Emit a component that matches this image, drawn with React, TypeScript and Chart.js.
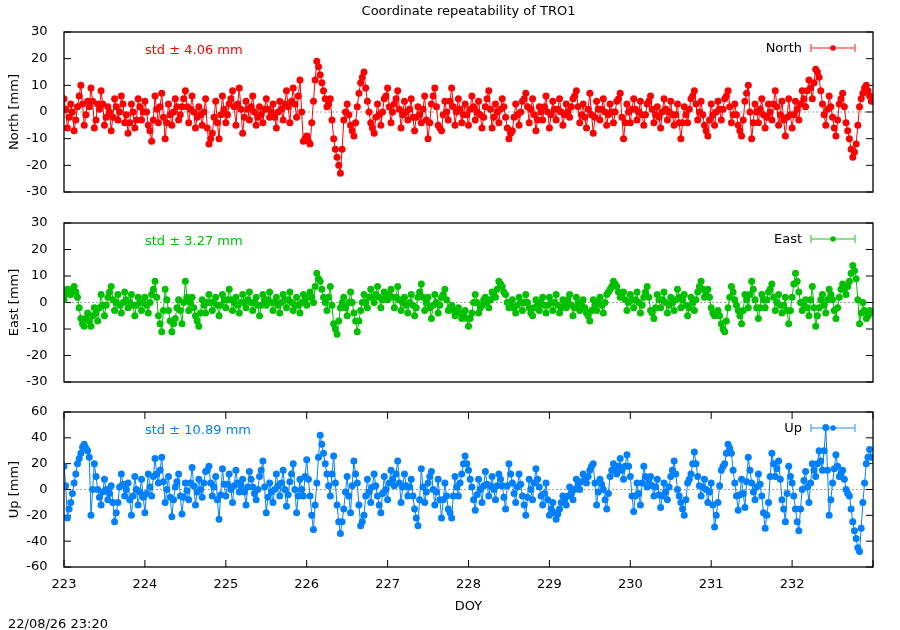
import React, { useEffect, useRef } from "react";
import { Chart, registerables } from "chart.js";

Chart.register(...registerables);

// ---- data: samples every hour (A) and on the half hour (B), starting DOY 223.0 ----
const DOY_START = 223;
const SAMPLES_PER_DAY = 24;
const X_MIN = 223;
const X_MAX = 233;
const X_TICK_STEP = 1;

const NORTH_A = [
  5, -6, 3, -7, 2, 10, -5, 4, 9, -6, 3, 8, -5, 2, -7, 5, -3, 6, -4, -8, 3, -6, 5, -3,
  4, -5, -11, 6, -4, 7, -10, 3, -5, 5, -3, 2, 8, -4, 6, -6, 2, -5, 5, -12, -8, 4, -10, 6,
  -4, 3, 8, -5, 9, -8, 4, -3, 6, -5, 2, -4, 5, -2, 3, -6, 4, -3, 8, -4, 9, -2, 12, -11,
  -9, -12, 4, 19, 14, 8, 2, 5, -10, -17, -23, -3, 3, -5, -9, 2, 11, 15, 4, -4, -8, 3, -5, 5,
  9, -4, 3, 8, -6, 4, -3, 5, -7, 2, -4, 6, -10, 3, 9, -5, -7, 4, -3, 9, -5, 5, -4, 3,
  -5, 6, -3, 4, -6, 2, 8, -6, 3, -4, 5, -2, -10, -7, 3, -5, 4, 7, -4, 5, -7, 2, -3, 6,
  -6, 4, -3, 5, -5, 3, -2, 5, 8, -4, 3, -6, 7, -8, 4, -3, 5, -5, 3, -4, 4, 7, -10, 3,
  -4, 5, -3, 4, -5, 3, 6, -4, 2, -6, 5, -3, 4, -5, 3, -10, 2, -4, 5, 8, -3, 4, -5, -9,
  3, -5, 4, -3, 5, 8, -4, 3, -5, -9, 4, 10, -10, 3, -4, 5, -6, 3, -3, 8, -5, 4, -9, 5,
  -6, 4, -3, 8, 2, 12, 5, 16, 13, 3, -5, 6, -2, -9, 3, 7, -4, -10, -17, -12, 2, 7, 10, 6,
];
const NORTH_B = [
  1, -2, 0, -3, 6, 3, -1, 2, 4, -3, 1, 3, -2, 0, -2, 2, 0, 3, -1, -4, 0, -3, 2, 0,
  0, -7, -3, 1, 2, -2, -4, -1, 0, 2, -1, 5, 2, 1, 0, -2, -1, 0, -6, -10, -2, -4, -1, 1,
  -1, 5, 2, 3, 1, -2, 1, 2, 0, -2, -1, 1, 1, 0, -2, 0, 1, 3, 2, 4, 3, 6, 0, -10,
  -11, -4, 12, 17, 11, 5, 3, -3, -14, -20, -14, 0, -1, -7, -4, 7, 13, 9, 0, -6, -2, -1, 0, 6,
  2, 0, 5, 1, -1, 0, 1, -2, -2, -1, 1, -3, -4, 6, 2, -6, -1, 0, 4, 2, 0, 1, -1, -1,
  1, 2, 0, -1, -2, 5, 1, -2, 0, 1, 2, -6, -8, -2, -1, 0, 5, 2, 1, -1, -3, 0, 2, 0,
  -1, 1, 1, 0, -1, 0, 2, 6, 2, -1, -2, 1, -1, -2, 1, 1, 0, -1, 0, 0, 5, -2, -4, 0,
  1, 1, 0, -1, -1, 4, 1, -1, -2, 0, 1, 0, -1, -1, -4, -4, -1, 1, 6, 3, 0, -1, -7, -3,
  -1, 0, 1, 1, 6, 2, -1, -1, -7, -3, 7, 0, -4, 0, 1, -1, -2, 0, 3, 2, -1, -3, -2, -1,
  -1, 1, 3, 5, 8, 9, 11, 15, 8, -1, 1, 2, -6, -3, 5, 2, -7, -14, -15, -5, 5, 9, 8, 4,
];

const EAST_A = [
  1, 5, 3, 6, 2, -6, -9, -4, -9, -2, -7, 3, -5, 2, 6, -3, 3, -4, 4, -2, 3, -5, 2, -3,
  2, -4, 3, 8, -5, -11, 5, -3, -11, -6, 1, -8, 8, -3, 2, -5, -9, 1, -4, 3, -3, 2, -5, 3,
  -2, 5, -3, 2, -4, 3, -2, 4, -3, 2, -5, 3, -1, 4, -3, 2, -4, 3, -2, 4, -3, 2, -4, 3,
  -1, 4, 0, 11, 8, 2, -3, 6, -8, -12, -2, 2, -5, 4, -4, -11, -3, 3, -2, 5, 0, 6, -2, 4,
  1, 5, -2, 6, -3, 2, -4, 3, -5, 2, 7, -3, 2, -6, 3, -4, 2, 5, -3, -1, -5, -2, -6, -3,
  -9, -4, 3, -4, -1, 2, -2, 4, 2, 8, 6, 3, -2, 1, -4, 2, -3, 3, -2, -5, 1, -3, 2, -4,
  2, -3, 3, -4, 1, -2, 3, -5, 2, -3, 1, -4, -7, 1, -3, 2, -4, 3, 5, 8, 6, 2, 4, -3,
  3, -2, 4, -4, 2, 6, -3, -6, 3, -2, 4, -4, 2, -3, 5, -2, 3, -5, 2, -3, 4, 8, 2, 5,
  -2, -5, -3, -8, -11, -2, 6, 1, -3, -8, 3, -2, 8, 1, -6, 3, -2, 4, 7, -3, 3, -4, 2, -8,
  2, 11, 4, -3, 1, -5, 6, -9, -2, 3, -4, 5, 1, -6, 2, 7, 3, 8, 14, 9, -8, 0, -6, -3,
];
const EAST_B = [
  3, 4, 5, 4, -2, -8, -6, -7, -5, -4, -2, -1, -1, 4, 1, 0, -1, 0, 1, 0, -1, -1, 0, 0,
  -1, 0, 5, 2, -8, -3, 1, -7, -8, -2, -3, 0, 2, 0, -2, -7, -4, -1, 0, 0, 0, -1, -1, 1,
  1, 1, 0, -1, 0, 0, 1, 0, 0, -1, -1, 1, 1, 0, 0, -1, 0, 1, 1, 0, -1, -1, 0, 1,
  2, 2, 6, 9, 5, 0, 2, -1, -10, -7, 0, -2, 0, 0, -7, -7, 0, 0, 2, 2, 3, 2, 1, 3,
  3, 2, 2, 1, 0, -1, 0, -1, -2, 4, 2, 0, -2, -1, 0, -1, 3, 1, -2, -3, -3, -4, -4, -6,
  -6, 0, 0, -2, 1, 0, 1, 3, 5, 7, 4, 0, 0, -2, -1, 0, 0, 0, -4, -2, -1, 0, -1, -1,
  0, 0, -1, -2, -1, 1, -1, -2, 0, -1, -2, -5, -3, -1, 0, -1, 0, 4, 6, 7, 4, 3, 1, 0,
  1, 1, 0, -1, 4, 2, -4, -2, 1, 1, 0, -1, 0, 1, 2, 1, -1, -2, 0, 1, 6, 5, 3, 2,
  -4, -4, -5, -10, -7, 2, 4, -1, -5, -3, 1, 3, 5, -2, -2, 1, 1, 5, 2, 0, -1, -1, -3, -3,
  7, 8, 0, -1, -2, 1, -2, -5, 1, -1, 1, 3, -3, -2, 5, 5, 6, 11, 12, 1, -4, -3, -5, -4,
];

const UP_A = [
  18, -22, -10, 5, 20, 28, 35, 30, -20, 20, 0, -12, 8, -8, 3, -25, -10, 12, -5, 5, -20, 10, -12, 8,
  -18, 12, -5, 24, 5, 25, -10, 10, -21, 2, 12, -19, 5, -8, 17, -12, 8, -6, 14, 18, -5, 10, -23, 16,
  -5, 12, -10, 15, -2, 8, -12, 14, 2, -8, 10, 22, -18, 5, -10, 12, -5, 15, -13, 6, 20, -18, 8, -5,
  23, -5, -31, 5, 42, 28, 12, -5, 26, -12, -34, -15, 10, -18, 22, 5, -28, -20, 8, -10, 12, -5, -18, 10,
  -8, 15, 3, 22, -10, 12, -5, 8, -15, -28, 16, -10, 5, 14, -12, 8, -22, 5, -15, -22, 10, -5, 12, 26,
  15, 2, -16, 8, -10, 14, -5, 10, -8, 12, 3, -15, 20, 5, -10, 12, -5, -20, 8, -8, 16, 2, -12, 5,
  -20, -10, -23, -15, -5, -12, 2, -8, 8, 0, 12, 5, 15, 20, -12, 8, 0, -15, 10, 20, 12, 24, 8, 27,
  10, -17, 5, -12, 18, 2, 10, -5, 8, -14, 5, -8, 10, 22, 0, -10, -20, 5, 12, 29, 10, -5, 8, -10,
  5, -29, -10, 15, 20, 35, 28, 5, -16, 8, -14, 25, 5, -8, 12, -5, -30, -10, 28, 10, 22, -8, -25, 18,
  5, -15, -32, 0, 14, -10, 20, 10, 30, 15, 48, -20, 5, 27, 10, 15, 0, -5, -25, -38, -48, -10, 20, 31,
];
const UP_B = [
  3, -15, -3, 12, 24, 33, 32, 25, 0, 10, -6, -2, 0, -3, -10, -18, 2, 4, 0, -8, -5, 0, -2, -6,
  -3, 2, 10, 12, 15, 6, 0, -6, -8, 6, -5, -6, -1, 5, 3, -2, 0, 5, 15, 5, 2, -8, -4, 4,
  4, 0, 3, 5, 3, -2, 2, 8, -3, 0, 15, 2, -6, -2, 0, 3, 5, 0, -4, 12, 0, -5, 0, 10,
  8, -20, -12, 25, 35, 20, 3, 12, 5, -25, -25, -2, -5, 3, 12, -12, -25, -5, -2, 2, 3, -12, -3, 0,
  5, 8, 12, 5, 2, 3, 2, -5, -22, -8, 2, -2, 10, 0, -2, -8, -8, -5, -18, -5, 2, 5, 20, 20,
  8, -8, -4, 0, 3, 4, 3, 0, 3, 8, -6, 3, 12, -3, 2, 4, -12, -6, 0, 5, 8, -5, -3, -8,
  -15, -18, -19, -10, -8, -5, -3, 0, 4, 6, 8, 10, 18, 5, -2, 4, -8, -3, 15, 15, 18, 15, 18, 18,
  -5, -5, -3, 5, 10, 6, 3, 2, -4, -5, -2, 2, 15, 12, -5, -15, -8, 8, 20, 20, 3, 2, 0, -2,
  -12, -20, 3, 18, 28, 32, 15, -5, -4, -3, 6, 15, -2, 2, 4, -18, -20, 10, 20, 16, 8, -15, -3, 10,
  -5, -25, -15, 7, 2, 5, 15, 20, 22, 30, 15, -8, 16, 18, 12, 8, -3, -15, -32, -45, -30, 5, 25, 25,
];

const TITLE = "Coordinate repeatability of TRO1";
const X_TITLE = "DOY";
const TIMESTAMP = "22/08/26 23:20";

const PANELS = [
  { label: "North", axisTitle: "North [mm]", std: "std \u00b1 4.06 mm", a: NORTH_A, b: NORTH_B, color: "#ff0000", min: -30, max: 30, step: 10, top: 0, height: 200, padTop: 32, padBottom: 8, bottomAxis: false },
  { label: "East", axisTitle: "East [mm]", std: "std \u00b1 3.27 mm", a: EAST_A, b: EAST_B, color: "#00c000", min: -30, max: 30, step: 10, top: 200, height: 200, padTop: 23, padBottom: 18, bottomAxis: false },
  { label: "Up", axisTitle: "Up [mm]", std: "std \u00b1 10.89 mm", a: UP_A, b: UP_B, color: "#0080ff", min: -60, max: 60, step: 20, top: 400, height: 230, padTop: 12, padBottom: 0, bottomAxis: true },
];

const FONT_FAMILY = '"DejaVu Sans", sans-serif';
const FONT_SIZE = 13;
const TICK_LEN = 7;

function makePlugin(p: any) {
  return {
    id: "panelDecor",
    beforeDatasetsDraw(chart: any) {
      const ctx = chart.ctx;
      const a = chart.chartArea;
      const y = chart.scales.y;
      ctx.save();
      // zero axis (dotted grey)
      const y0 = y.getPixelForValue(0);
      ctx.strokeStyle = "#a0a0a0";
      ctx.lineWidth = 1;
      ctx.setLineDash([2, 2]);
      ctx.beginPath();
      ctx.moveTo(a.left, y0);
      ctx.lineTo(a.right, y0);
      ctx.stroke();
      ctx.setLineDash([]);
      // inward ticks
      ctx.strokeStyle = "#000";
      ctx.lineWidth = 1;
      ctx.beginPath();
      for (let v = p.min; v <= p.max; v += p.step) {
        const py = y.getPixelForValue(v);
        ctx.moveTo(a.left, py);
        ctx.lineTo(a.left + TICK_LEN, py);
        ctx.moveTo(a.right, py);
        ctx.lineTo(a.right - TICK_LEN, py);
      }
      if (p.bottomAxis) {
        const x = chart.scales.x;
        for (let v = X_MIN; v <= X_MAX; v += X_TICK_STEP) {
          const px = x.getPixelForValue(v);
          ctx.moveTo(px, a.bottom);
          ctx.lineTo(px, a.bottom - TICK_LEN);
          ctx.moveTo(px, a.top);
          ctx.lineTo(px, a.top + TICK_LEN);
        }
      }
      ctx.stroke();
      ctx.restore();
    },
    afterDatasetsDraw(chart: any) {
      const ctx = chart.ctx;
      const a = chart.chartArea;
      ctx.save();
      // border
      ctx.strokeStyle = "#000";
      ctx.lineWidth = 1.3;
      ctx.strokeRect(a.left, a.top, a.right - a.left, a.bottom - a.top);

      ctx.font = `${FONT_SIZE}px ${FONT_FAMILY}`;
      ctx.textBaseline = "alphabetic";

      // std text
      ctx.fillStyle = p.color;
      ctx.textAlign = "left";
      ctx.fillText(p.std, 145, a.top + 21.5);

      // legend
      ctx.fillStyle = "#000";
      ctx.textAlign = "right";
      ctx.fillText(p.label, 802, a.top + 19.5);
      const ly = Math.round(a.top + 15.5);
      ctx.strokeStyle = p.color;
      ctx.globalAlpha = 0.6;
      ctx.lineWidth = 1.5;
      ctx.beginPath();
      ctx.moveTo(811, ly);
      ctx.lineTo(855, ly);
      ctx.moveTo(811, ly - 4);
      ctx.lineTo(811, ly + 4);
      ctx.moveTo(855, ly - 4);
      ctx.lineTo(855, ly + 4);
      ctx.stroke();
      ctx.globalAlpha = 1;
      ctx.fillStyle = p.color;
      ctx.beginPath();
      ctx.arc(833, ly, 2.8, 0, Math.PI * 2);
      ctx.fill();

      // y axis title
      ctx.fillStyle = "#000";
      ctx.save();
      ctx.translate(18, (a.top + a.bottom) / 2);
      ctx.rotate(-Math.PI / 2);
      ctx.textAlign = "center";
      ctx.fillText(p.axisTitle, 0, 0);
      ctx.restore();

      const cx = (a.left + a.right) / 2;
      if (p.top === 0) {
        ctx.textAlign = "center";
        ctx.fillText(TITLE, cx, 15);
      }
      if (p.bottomAxis) {
        ctx.textAlign = "center";
        ctx.fillText(X_TITLE, cx, 210);
        ctx.textAlign = "left";
        ctx.fillText(TIMESTAMP, 8, 228);
      }
      ctx.restore();
    },
  };
}

function Panel({ p }: { p: any }) {
  const ref = useRef<HTMLCanvasElement | null>(null);
  useEffect(() => {
    if (!ref.current) return;
    const points: { x: number; y: number }[] = [];
    p.a.forEach((v: number, i: number) => {
      points.push({ x: DOY_START + i / SAMPLES_PER_DAY, y: v });
      points.push({ x: DOY_START + (i + 0.5) / SAMPLES_PER_DAY, y: p.b[i] });
    });
    const xScale: any = {
      type: "linear",
      min: X_MIN,
      max: X_MAX,
      display: p.bottomAxis,
      grid: { display: false },
      border: { display: false },
      ticks: {
        stepSize: X_TICK_STEP,
        color: "#000",
        font: { family: FONT_FAMILY, size: FONT_SIZE },
        padding: 2,
        maxRotation: 0,
        autoSkip: false,
      },
      afterBuildTicks: (s: any) => {
        s.ticks = s.ticks.filter((t: any) => t.value < X_MAX);
      },
    };
    if (p.bottomAxis) {
      xScale.afterFit = (s: any) => {
        s.height = 63;
        s.paddingLeft = 0;
        s.paddingRight = 0;
      };
    }
    const chart = new Chart(ref.current, {
      type: "line",
      data: {
        datasets: [
          {
            label: p.label,
            data: points,
            borderColor: p.color,
            backgroundColor: p.color,
            borderWidth: 1,
            pointRadius: 3.5,
            pointBorderWidth: 0,
            pointBackgroundColor: p.color,
            pointStyle: "circle",
            tension: 0,
          } as any,
        ],
      },
      options: {
        animation: false,
        responsive: false,
        maintainAspectRatio: false,
        devicePixelRatio: 1,
        layout: { padding: { top: p.padTop, bottom: p.padBottom, left: 0, right: 27 } },
        plugins: {
          legend: { display: false },
          tooltip: { enabled: false },
          title: { display: false },
        },
        scales: {
          x: xScale,
          y: {
            min: p.min,
            max: p.max,
            grid: { display: false },
            border: { display: false },
            ticks: {
              stepSize: p.step,
              autoSkip: false,
              color: "#000",
              font: { family: FONT_FAMILY, size: FONT_SIZE },
              padding: 8.5,
            },
            afterFit: (s: any) => {
              s.width = 64;
              s.paddingTop = 0;
              s.paddingBottom = 0;
            },
          } as any,
        },
      } as any,
      plugins: [makePlugin(p)],
    });
    return () => chart.destroy();
  }, [p]);
  return (
    <canvas
      ref={ref}
      width={900}
      height={p.height}
      style={{ position: "absolute", left: 0, top: p.top, width: 900, height: p.height, display: "block" }}
    />
  );
}

export default function App() {
  return (
    <div style={{ position: "absolute", left: 0, top: 0, width: 900, height: 630, background: "#fff", overflow: "hidden" }}>
      {PANELS.map((p) => (
        <Panel key={p.label} p={p} />
      ))}
    </div>
  );
}
